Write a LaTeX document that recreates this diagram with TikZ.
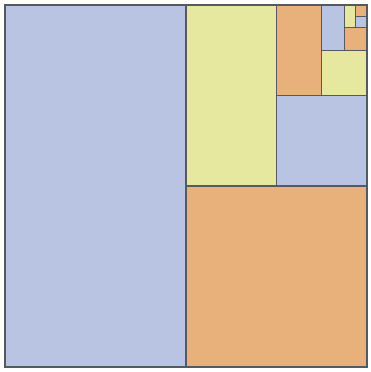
\documentclass[tikz,border=0pt]{standalone}
\usepackage{tikz}
\definecolor{TileBlue}{HTML}{B8C4E2}
\definecolor{TileOrange}{HTML}{E8B17C}
\definecolor{TileYellow}{HTML}{E6E8A0}
\definecolor{LineGray}{HTML}{555A60}

\begin{document}
\begin{tikzpicture}[
    x=1pt, y=1pt,
    tile/.style={draw=LineGray, line width=1.1pt, line join=miter},
    frame/.style={draw=LineGray, line width=1.8pt}
]
\useasboundingbox (0,0) rectangle (370,372);

% 方块按黄金分割式的对半递归划分，单位格 = 45.25pt，y 轴向下
\begin{scope}[shift={(5,367)}, x=45.25pt, y=-45.25pt]
  \foreach \col/\xa/\ya/\xb/\yb in {
      TileBlue/0/0/4/8,
      TileOrange/4/4/8/8,
      TileYellow/4/0/6/4,
      TileBlue/6/2/8/4,
      TileOrange/6/0/7/2,
      TileYellow/7/1/8/2,
      TileBlue/7/0/7.5/1,
      TileOrange/7.5/0.5/8/1,
      TileYellow/7.5/0/7.75/0.5,
      TileBlue/7.75/0.25/8/0.5,
      TileOrange/7.75/0/8/0.25}
    \fill[tile, fill=\col] (\xa,\ya) rectangle (\xb,\yb);
  % 外框
  \draw[frame] (0,0) rectangle (8,8);
\end{scope}
\end{tikzpicture}
\end{document}
